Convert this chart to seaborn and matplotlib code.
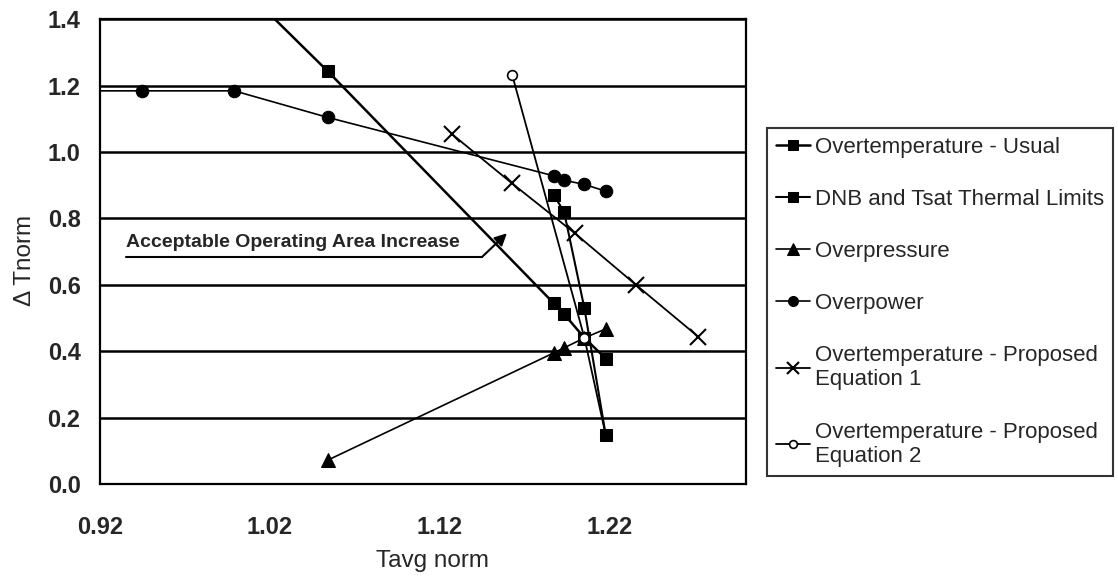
import matplotlib
matplotlib.use("Agg")
import matplotlib.pyplot as plt
import seaborn as sns

# data
usual_x = [1.000, 1.054, 1.187, 1.193, 1.205, 1.2175]
usual_y = [1.515, 1.243, 0.544, 0.512, 0.440, 0.378]

dnb_x = [1.187, 1.193, 1.205, 1.2175]
dnb_y = [0.870, 0.820, 0.529, 0.148]

overpressure_x = [1.054, 1.187, 1.193, 1.205, 1.2175]
overpressure_y = [0.072, 0.395, 0.410, 0.440, 0.467]

overpower_x = [0.900, 0.9445, 0.999, 1.054, 1.187, 1.193, 1.205, 1.2175]
overpower_y = [1.184, 1.184, 1.184, 1.104, 0.928, 0.915, 0.902, 0.882]

eq1_x = [1.127, 1.1625, 1.1994, 1.2355, 1.272]
eq1_y = [1.054, 0.905, 0.755, 0.599, 0.4435]

eq2_x = [1.1625, 1.205, 1.2175]
eq2_y = [1.232, 0.440, 0.148]

x_ticks = [0.92, 1.02, 1.12, 1.22]
y_ticks = [0.0, 0.2, 0.4, 0.6, 0.8, 1.0, 1.2, 1.4]

note_text = "Acceptable Operating Area Increase"
note_line_x = [0.9353, 1.1447]
note_line_y = [0.6835, 0.6835]
note_arrow_tip = (1.1594, 0.755)

sns.set_style("white")
plt.rcParams['font.family'] = ['Liberation Sans', 'DejaVu Sans']

fig = plt.figure(figsize=(11.18, 5.79), dpi=100)
ax = fig.add_axes([0.0894, 0.164, 0.5778, 0.803])

# 水平网格线
for yv in y_ticks:
    ax.axhline(yv, color='black', lw=1.8, zorder=1)

common = dict(ax=ax, color='black', estimator=None, sort=False)
sns.lineplot(x=usual_x, y=usual_y, marker='s', markersize=9, lw=1.8,
             mec='black', label='Overtemperature - Usual', zorder=3, **common)
sns.lineplot(x=dnb_x, y=dnb_y, marker='s', markersize=9, lw=1.5,
             mec='black', label='DNB and Tsat Thermal Limits', zorder=4, **common)
sns.lineplot(x=overpressure_x, y=overpressure_y, marker='^', markersize=10, lw=1.2,
             mec='black', label='Overpressure', zorder=3, **common)
sns.lineplot(x=overpower_x, y=overpower_y, marker='o', markersize=9, lw=1.2,
             mec='black', label='Overpower', zorder=3, **common)
sns.lineplot(x=eq1_x, y=eq1_y, marker='x', markersize=11, mew=1.5, lw=1.3,
             mec='black', label='Overtemperature - Proposed\nEquation 1', zorder=3, **common)
sns.lineplot(x=eq2_x, y=eq2_y, marker='o', markersize=7, mew=1.2, lw=1.3,
             mfc='white', mec='black', label='Overtemperature - Proposed\nEquation 2',
             zorder=3.5, **common)

# 注释文字 + 箭头
ax.text(note_line_x[0], note_line_y[0] + 0.018, note_text, fontsize=14,
        fontweight='bold', ha='left', va='bottom', zorder=5)
ax.plot(note_line_x, note_line_y, color='black', lw=1.5, zorder=5)
ax.annotate('', xy=note_arrow_tip, xytext=(note_line_x[1], note_line_y[1]),
            arrowprops=dict(arrowstyle='-|>', color='black', lw=1.5,
                            mutation_scale=18, shrinkA=0, shrinkB=0), zorder=5)

ax.set_xlim(0.92, 1.30)
ax.set_ylim(0.0, 1.4)
ax.set_xticks(x_ticks)
ax.set_xticklabels([f"{v:.2f}" for v in x_ticks])
ax.set_yticks(y_ticks)
ax.set_yticklabels([f"{v:.1f}" for v in y_ticks])
ax.tick_params(axis='both', direction='out', length=7, width=1.5,
               color='black', labelsize=17)
ax.tick_params(axis='x', pad=16)
ax.tick_params(axis='y', pad=7)
for lab in ax.get_xticklabels() + ax.get_yticklabels():
    lab.set_fontweight('bold')
ax.set_xlabel('Tavg norm', fontsize=17.5, labelpad=8)
ax.xaxis.label.set_x(0.515)
ax.set_ylabel('\u0394 Tnorm', fontsize=17.5)
ax.yaxis.set_label_coords(-0.099, 0.48)
for sp in ax.spines.values():
    sp.set_color('black')
    sp.set_linewidth(1.6)

leg = ax.legend(loc='upper left', bbox_to_anchor=(0.686, 0.779),
                bbox_transform=fig.transFigure, borderaxespad=0,
                fontsize=16, frameon=True, fancybox=False, edgecolor='black',
                handlelength=1.55, handletextpad=0.2, labelspacing=1.4,
                borderpad=0.4, markerscale=0.8)
leg.get_frame().set_linewidth(1.5)

fig.savefig('out.png', dpi=100)
